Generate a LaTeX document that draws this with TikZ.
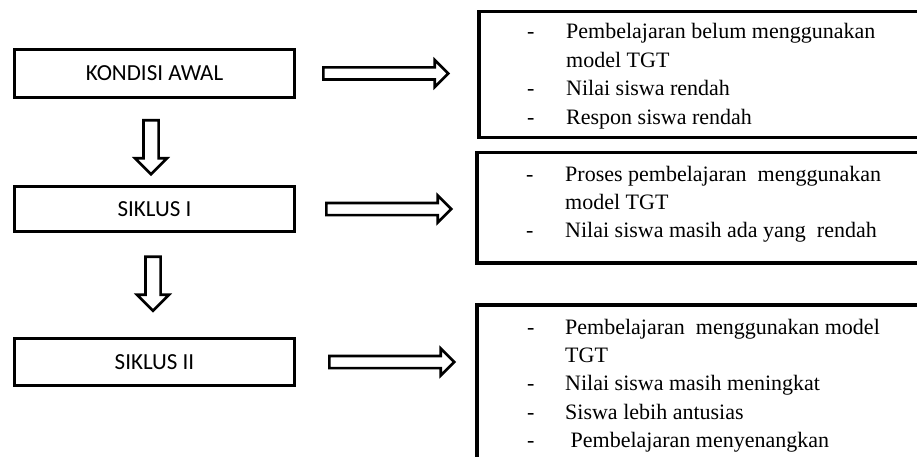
\documentclass[tikz,border=0pt]{standalone}
\usepackage{fontspec}
\setmainfont{Liberation Serif}
\newfontfamily\stagefont{Carlito}
\usetikzlibrary{positioning, calc, shapes.arrows}

\tikzset{
    stage/.style={draw, line width=3pt, minimum width=280pt, font=\stagefont\fontsize{23}{27}\selectfont},
    result/.style={draw, line width=3.5pt, anchor=north west, minimum width=470pt},
    points/.style={anchor=base west, inner sep=0pt, font=\fontsize{22}{28.4}\selectfont},
    hollowright/.style={single arrow, draw, line width=2.6pt, inner sep=4.75pt, minimum width=0pt,
        minimum height=125pt, single arrow head extend=7.5pt},
    hollowdown/.style={hollowright, rotate=-90, inner sep=6.25pt, minimum height=54pt, single arrow head extend=8.5pt}
}

\begin{document}
\begin{tikzpicture}[x=1pt, y=-1pt]
    \useasboundingbox[fill=white] (0,0) rectangle (917,457);

    \node[stage, minimum height=48pt] (awal) at (154.5,73.5) {KONDISI AWAL};
    \node[stage, minimum height=45pt] (siklus1) at (154.5,209) {SIKLUS I};
    \node[stage, minimum height=47pt] (siklus2) at (154.5,362) {SIKLUS II};

    \node[result, minimum height=126pt] (hasil1) at (477,10) {};
    \node[result, minimum height=110pt] (hasil2) at (475,151) {};
    \node[result, minimum height=200pt] (hasil3) at (475,303) {};

    \node[points] (isi1) at ($(hasil1.north west)+(50,29)$) {%
        \begin{tabular}[t]{@{}p{39pt}@{}l@{}}
            - & Pembelajaran belum menggunakan \\
              & model TGT \\
            - & Nilai siswa rendah \\
            - & Respon siswa rendah
        \end{tabular}};
    \node[points] (isi2) at ($(hasil2.north west)+(51,30)$) {%
        \begin{tabular}[t]{@{}p{39pt}@{}l@{}}
            - & Proses pembelajaran\ \ menggunakan \\
              & model TGT \\
            - & Nilai siswa masih ada yang\ \ rendah
        \end{tabular}};
    \node[points] (isi3) at ($(hasil3.north west)+(52,31)$) {%
        \begin{tabular}[t]{@{}p{38pt}@{}l@{}}
            - & Pembelajaran\ \ menggunakan model \\
              & TGT \\
            - & Nilai siswa masih meningkat \\
            - & Siswa lebih antusias \\
            - & \ Pembelajaran menyenangkan
        \end{tabular}};

    \node[hollowright, right=26pt of awal] (panah1) {};
    \node[hollowright, right=29pt of siklus1] (panah2) {};
    \node[hollowright, right=32pt of siklus2] (panah3) {};

    \node[hollowdown] (turun1) at ($(awal.south)+(-3.5,44.5)$) {};
    \node[hollowdown] (turun2) at ($(siklus1.south)+(-1.5,47)$) {};
\end{tikzpicture}
\end{document}
